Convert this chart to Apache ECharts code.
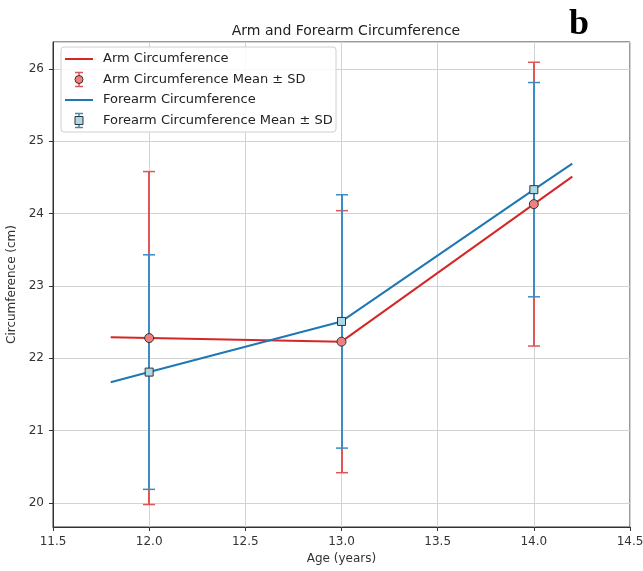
<!DOCTYPE html>
<html lang="en">
<head>
    <meta charset="UTF-8">
    <script src="https://cdn.jsdelivr.net/npm/echarts@6/dist/echarts.min.js"></script>
    <title>Arm and Forearm Circumference</title>
    <style>
        body { margin: 0; background: #fff; }
    </style>
</head>
<body>
<div id="main" style="width: 643px;height:571px;"></div>
<script type="text/javascript">

    // ages where the means were measured
    var ages = [12.0, 13.0, 14.0];
    var armMean = [22.28, 22.23, 24.13];
    var armSD = [2.30, 1.81, 1.96];
    var forearmMean = [21.81, 22.51, 24.33];
    var forearmSD = [1.62, 1.75, 1.48];

    // fitted lines (drawn a bit past the first and last age)
    var lineAges = [11.8, 12.0, 13.0, 14.0, 14.2];
    var armLine = [22.29, 22.28, 22.23, 24.13, 24.51];
    var forearmLine = [21.67, 21.81, 22.51, 24.33, 24.69];

    var RED = '#d62728';
    var BLUE = '#1f77b4';
    var FONT = 'DejaVu Sans';

    function pairs(xs, ys) {
        return xs.map(function (x, i) { return [x, ys[i]]; });
    }
    function bars(xs, mean, sd) {
        return xs.map(function (x, i) { return [x, mean[i] - sd[i], mean[i] + sd[i]]; });
    }

    function errorBar(color) {
        return function (params, api) {
            var lo = api.coord([api.value(0), api.value(1)]);
            var hi = api.coord([api.value(0), api.value(2)]);
            var x = Math.round(lo[0]);   // snap so overlapping bars don't blend
            var cap = 6;
            var st = { stroke: color, lineWidth: 2 };
            return {
                type: 'group',
                children: [
                    { type: 'line', shape: { x1: x, y1: lo[1], x2: x, y2: hi[1] }, style: st },
                    { type: 'line', shape: { x1: x - cap, y1: lo[1], x2: x + cap, y2: lo[1] }, style: { stroke: color, lineWidth: 1.5 } },
                    { type: 'line', shape: { x1: x - cap, y1: hi[1], x2: x + cap, y2: hi[1] }, style: { stroke: color, lineWidth: 1.5 } }
                ]
            };
        };
    }

    var myChart = echarts.init(document.getElementById('main'));

    // legend drawn by hand so the error bar icons look like matplotlib's
    var legendRows = [
        { text: 'Arm Circumference', kind: 'line', color: RED },
        { text: 'Arm Circumference Mean \u00b1 SD', kind: 'circle', color: '#e05555', fill: '#f08080' },
        { text: 'Forearm Circumference', kind: 'line', color: BLUE },
        { text: 'Forearm Circumference Mean \u00b1 SD', kind: 'rect', color: '#3d8bc4', fill: '#add8e6' }
    ];
    var legendEls = [{
        type: 'rect', z: 100,
        shape: { x: 61, y: 47, width: 275, height: 85, r: 3 },
        style: { fill: 'rgba(255,255,255,0.85)', stroke: '#d0d0d0', lineWidth: 1 }
    }];
    legendRows.forEach(function (row, i) {
        var cy = 59 + i * 20.5;
        if (row.kind === 'line') {
            legendEls.push({ type: 'line', z: 101, shape: { x1: 65, y1: cy, x2: 93, y2: cy },
                style: { stroke: row.color, lineWidth: 2 } });
        } else {
            var st = { stroke: row.color, lineWidth: 1.5 };
            legendEls.push({ type: 'line', z: 101, shape: { x1: 79, y1: cy - 7, x2: 79, y2: cy + 7 }, style: st });
            legendEls.push({ type: 'line', z: 101, shape: { x1: 75, y1: cy - 7, x2: 83, y2: cy - 7 }, style: st });
            legendEls.push({ type: 'line', z: 101, shape: { x1: 75, y1: cy + 7, x2: 83, y2: cy + 7 }, style: st });
            if (row.kind === 'circle') {
                legendEls.push({ type: 'circle', z: 102, shape: { cx: 79, cy: cy, r: 4 },
                    style: { fill: row.fill, stroke: '#333', lineWidth: 1 } });
            } else {
                legendEls.push({ type: 'rect', z: 102, shape: { x: 75, y: cy - 4, width: 8, height: 8 },
                    style: { fill: row.fill, stroke: '#333', lineWidth: 1 } });
            }
        }
        legendEls.push({ type: 'text', z: 101, x: 103, y: cy,
            style: { text: row.text, font: '13px "' + FONT + '"', fill: '#222', verticalAlign: 'middle' } });
    });

    var option = {
        animation: false,
        backgroundColor: '#fff',
        textStyle: { fontFamily: FONT },
        title: [{
            text: 'Arm and Forearm Circumference',
            left: 341, top: 19, textAlign: 'center',
            textStyle: { fontFamily: FONT, fontSize: 14, fontWeight: 'normal', color: '#222' }
        }, {
            text: 'b',
            left: 564, top: 2,
            textStyle: { fontFamily: 'Liberation Serif', fontSize: 36, fontWeight: 'bold', color: '#000' }
        }],
        grid: {
            left: 53, right: 13, top: 42, bottom: 44,
            outerBoundsMode: 'none',
            show: true, borderColor: '#333', borderWidth: 1
        },
        xAxis: {
            type: 'value',
            min: 11.5, max: 14.5, interval: 0.5,
            name: 'Age (years)', nameLocation: 'middle', nameGap: 25,
            nameTextStyle: { fontFamily: FONT, fontSize: 12, color: '#333' },
            axisLine: { show: true, lineStyle: { color: '#333' } },
            axisTick: { show: true, length: 4, lineStyle: { color: '#333' } },
            axisLabel: {
                fontFamily: FONT, fontSize: 12, color: '#333', margin: 9,
                formatter: function (v) { return v.toFixed(1); }
            },
            splitLine: { show: true, lineStyle: { color: '#d3d3d3', width: 1 } }
        },
        yAxis: {
            type: 'value',
            min: 19.67, max: 26.37, splitNumber: 6,
            name: 'Circumference (cm)', nameLocation: 'middle', nameGap: 35,
            nameTextStyle: { fontFamily: FONT, fontSize: 12, color: '#333' },
            axisLine: { show: true, lineStyle: { color: '#333' } },
            axisTick: { show: true, length: 4, lineStyle: { color: '#333' } },
            axisLabel: {
                fontFamily: FONT, fontSize: 12, color: '#333', margin: 9,
                showMinLabel: false, showMaxLabel: false
            },
            splitLine: { show: true, lineStyle: { color: '#d3d3d3', width: 1 } }
        },
        graphic: legendEls,
        series: [
            {
                name: 'Arm Circumference', type: 'line',
                data: pairs(lineAges, armLine), symbol: 'none',
                lineStyle: { color: RED, width: 2 }, z: 3
            },
            {
                name: 'Arm Circumference Mean \u00b1 SD', type: 'custom',
                data: bars(ages, armMean, armSD),
                encode: { x: 0, y: [1, 2] },
                renderItem: errorBar('#e05555'), z: 3
            },
            {
                name: 'Arm Mean', type: 'scatter',
                data: pairs(ages, armMean), symbol: 'circle', symbolSize: 9,
                itemStyle: { color: '#f08080', borderColor: '#333', borderWidth: 1, opacity: 1 }, z: 7
            },
            {
                name: 'Forearm Circumference', type: 'line',
                data: pairs(lineAges, forearmLine), symbol: 'none',
                lineStyle: { color: BLUE, width: 2 }, z: 5
            },
            {
                name: 'Forearm Circumference Mean \u00b1 SD', type: 'custom',
                data: bars(ages, forearmMean, forearmSD),
                encode: { x: 0, y: [1, 2] },
                renderItem: errorBar('#3d8bc4'), z: 5
            },
            {
                name: 'Forearm Mean', type: 'scatter',
                data: pairs(ages, forearmMean), symbol: 'rect', symbolSize: 8,
                itemStyle: { color: '#add8e6', borderColor: '#333', borderWidth: 1, opacity: 1 }, z: 8
            }
        ]
    };

    myChart.setOption(option);

</script>
</body>
</html>
